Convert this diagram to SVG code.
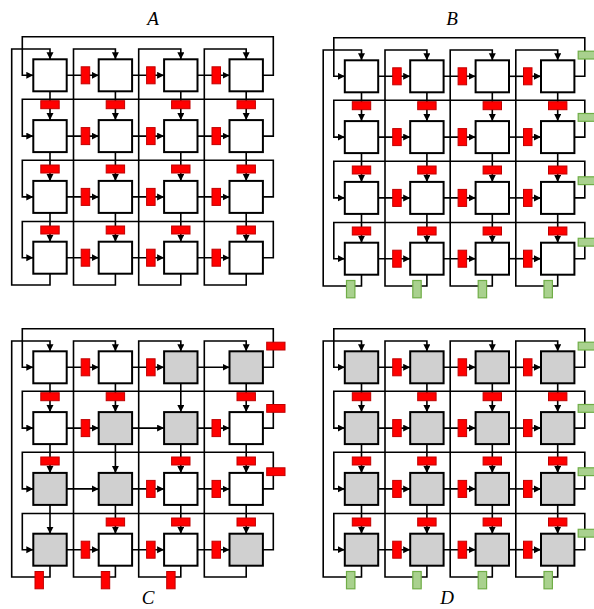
<svg xmlns="http://www.w3.org/2000/svg" width="594" height="609" viewBox="0 0 594 609">
<style>
.bg{fill:#fff}
.conn path{fill:none;stroke:#000;stroke-width:1.6;marker-end:url(#ah)}
.rh,.rv{fill:#f00;stroke:#c00000;stroke-width:1}
.gr{fill:#a9d18e;stroke:#70ad47;stroke-width:1.2}
.n rect{fill:#fff;stroke:#000;stroke-width:2}
.n.s rect{fill:#d0d0d0}
.t{font-family:"Liberation Serif",serif;font-style:italic;font-size:19px;fill:#000}
</style>
<defs>
<marker id="ah" markerWidth="8" markerHeight="8" refX="7" refY="3.5" orient="auto" markerUnits="userSpaceOnUse"><path d="M0,0L7,3.5L0,7z" fill="#000"/></marker>
</defs>
<rect class="bg" x="0" y="0" width="594" height="609"/>
<text class="t" x="153" y="25" text-anchor="middle">A</text>
<text class="t" x="452" y="25" text-anchor="middle">B</text>
<text class="t" x="148" y="604" text-anchor="middle">C</text>
<text class="t" x="447" y="604" text-anchor="middle">D</text>

<!-- Panel A -->
<g id="panelA">
<g id="A-connectors" class="conn">
<path d="M262.9,75.3H273.3V36.7H22.3V75.3H33.3"/>
<path d="M262.9,136.1H273.3V99.3H22.3V136.1H33.3"/>
<path d="M262.9,196.9H273.3V160.2H22.3V196.9H33.3"/>
<path d="M262.9,257.7H273.3V221.5H22.3V257.7H33.3"/>
<path d="M50,273.7V285H11.7V49H50V59.3"/>
<path d="M115.4,273.7V285H73.5V49H115.4V59.3"/>
<path d="M180.8,273.7V285H138.7V49H180.8V59.3"/>
<path d="M246.2,273.7V285H204.3V49H246.2V59.3"/>
<path d="M66.7,75.3H98.7"/><path d="M132.1,75.3H164.1"/><path d="M197.5,75.3H229.5"/>
<path d="M66.7,136.1H98.7"/><path d="M132.1,136.1H164.1"/><path d="M197.5,136.1H229.5"/>
<path d="M66.7,196.9H98.7"/><path d="M132.1,196.9H164.1"/><path d="M197.5,196.9H229.5"/>
<path d="M66.7,257.7H98.7"/><path d="M132.1,257.7H164.1"/><path d="M197.5,257.7H229.5"/>
<path d="M50,91.3V120.1"/><path d="M50,152.1V180.9"/><path d="M50,212.9V241.7"/>
<path d="M115.4,91.3V120.1"/><path d="M115.4,152.1V180.9"/><path d="M115.4,212.9V241.7"/>
<path d="M180.8,91.3V120.1"/><path d="M180.8,152.1V180.9"/><path d="M180.8,212.9V241.7"/>
<path d="M246.2,91.3V120.1"/><path d="M246.2,152.1V180.9"/><path d="M246.2,212.9V241.7"/>
</g>
<g id="A-registers">
<rect class="rh" x="81.2" y="66.8" width="8.5" height="17"/><rect class="rh" x="146.6" y="66.8" width="8.5" height="17"/><rect class="rh" x="212" y="66.8" width="8.5" height="17"/>
<rect class="rh" x="81.2" y="127.6" width="8.5" height="17"/><rect class="rh" x="146.6" y="127.6" width="8.5" height="17"/><rect class="rh" x="212" y="127.6" width="8.5" height="17"/>
<rect class="rh" x="81.2" y="188.4" width="8.5" height="17"/><rect class="rh" x="146.6" y="188.4" width="8.5" height="17"/><rect class="rh" x="212" y="188.4" width="8.5" height="17"/>
<rect class="rh" x="81.2" y="249.2" width="8.5" height="17"/><rect class="rh" x="146.6" y="249.2" width="8.5" height="17"/><rect class="rh" x="212" y="249.2" width="8.5" height="17"/>
<rect class="rv" x="40.8" y="100.7" width="18.4" height="8"/><rect class="rv" x="40.8" y="165" width="18.4" height="8"/><rect class="rv" x="40.8" y="226" width="18.4" height="8"/>
<rect class="rv" x="106.2" y="100.7" width="18.4" height="8"/><rect class="rv" x="106.2" y="165" width="18.4" height="8"/><rect class="rv" x="106.2" y="226" width="18.4" height="8"/>
<rect class="rv" x="171.6" y="100.7" width="18.4" height="8"/><rect class="rv" x="171.6" y="165" width="18.4" height="8"/><rect class="rv" x="171.6" y="226" width="18.4" height="8"/>
<rect class="rv" x="237" y="100.7" width="18.4" height="8"/><rect class="rv" x="237" y="165" width="18.4" height="8"/><rect class="rv" x="237" y="226" width="18.4" height="8"/>
</g>
<g id="A-n11" class="n"><rect x="33.3" y="59.3" width="33.4" height="32"/></g>
<g id="A-n12" class="n"><rect x="98.7" y="59.3" width="33.4" height="32"/></g>
<g id="A-n13" class="n"><rect x="164.1" y="59.3" width="33.4" height="32"/></g>
<g id="A-n14" class="n"><rect x="229.5" y="59.3" width="33.4" height="32"/></g>
<g id="A-n21" class="n"><rect x="33.3" y="120.1" width="33.4" height="32"/></g>
<g id="A-n22" class="n"><rect x="98.7" y="120.1" width="33.4" height="32"/></g>
<g id="A-n23" class="n"><rect x="164.1" y="120.1" width="33.4" height="32"/></g>
<g id="A-n24" class="n"><rect x="229.5" y="120.1" width="33.4" height="32"/></g>
<g id="A-n31" class="n"><rect x="33.3" y="180.9" width="33.4" height="32"/></g>
<g id="A-n32" class="n"><rect x="98.7" y="180.9" width="33.4" height="32"/></g>
<g id="A-n33" class="n"><rect x="164.1" y="180.9" width="33.4" height="32"/></g>
<g id="A-n34" class="n"><rect x="229.5" y="180.9" width="33.4" height="32"/></g>
<g id="A-n41" class="n"><rect x="33.3" y="241.7" width="33.4" height="32"/></g>
<g id="A-n42" class="n"><rect x="98.7" y="241.7" width="33.4" height="32"/></g>
<g id="A-n43" class="n"><rect x="164.1" y="241.7" width="33.4" height="32"/></g>
<g id="A-n44" class="n"><rect x="229.5" y="241.7" width="33.4" height="32"/></g>
</g>

<!-- Panel B -->
<g id="panelB" transform="translate(311.5,1)">
<g id="B-connectors" class="conn">
<path d="M262.9,75.3H273.3V36.7H22.3V75.3H33.3"/>
<path d="M262.9,136.1H273.3V99.3H22.3V136.1H33.3"/>
<path d="M262.9,196.9H273.3V160.2H22.3V196.9H33.3"/>
<path d="M262.9,257.7H273.3V221.5H22.3V257.7H33.3"/>
<path d="M50,273.7V285H11.7V49H50V59.3"/>
<path d="M115.4,273.7V285H73.5V49H115.4V59.3"/>
<path d="M180.8,273.7V285H138.7V49H180.8V59.3"/>
<path d="M246.2,273.7V285H204.3V49H246.2V59.3"/>
<path d="M66.7,75.3H98.7"/><path d="M132.1,75.3H164.1"/><path d="M197.5,75.3H229.5"/>
<path d="M66.7,136.1H98.7"/><path d="M132.1,136.1H164.1"/><path d="M197.5,136.1H229.5"/>
<path d="M66.7,196.9H98.7"/><path d="M132.1,196.9H164.1"/><path d="M197.5,196.9H229.5"/>
<path d="M66.7,257.7H98.7"/><path d="M132.1,257.7H164.1"/><path d="M197.5,257.7H229.5"/>
<path d="M50,91.3V120.1"/><path d="M50,152.1V180.9"/><path d="M50,212.9V241.7"/>
<path d="M115.4,91.3V120.1"/><path d="M115.4,152.1V180.9"/><path d="M115.4,212.9V241.7"/>
<path d="M180.8,91.3V120.1"/><path d="M180.8,152.1V180.9"/><path d="M180.8,212.9V241.7"/>
<path d="M246.2,91.3V120.1"/><path d="M246.2,152.1V180.9"/><path d="M246.2,212.9V241.7"/>
</g>
<g id="B-registers">
<rect class="rh" x="81.2" y="66.8" width="8.5" height="17"/><rect class="rh" x="146.6" y="66.8" width="8.5" height="17"/><rect class="rh" x="212" y="66.8" width="8.5" height="17"/>
<rect class="rh" x="81.2" y="127.6" width="8.5" height="17"/><rect class="rh" x="146.6" y="127.6" width="8.5" height="17"/><rect class="rh" x="212" y="127.6" width="8.5" height="17"/>
<rect class="rh" x="81.2" y="188.4" width="8.5" height="17"/><rect class="rh" x="146.6" y="188.4" width="8.5" height="17"/><rect class="rh" x="212" y="188.4" width="8.5" height="17"/>
<rect class="rh" x="81.2" y="249.2" width="8.5" height="17"/><rect class="rh" x="146.6" y="249.2" width="8.5" height="17"/><rect class="rh" x="212" y="249.2" width="8.5" height="17"/>
<rect class="rv" x="40.8" y="100.7" width="18.4" height="8"/><rect class="rv" x="40.8" y="165" width="18.4" height="8"/><rect class="rv" x="40.8" y="226" width="18.4" height="8"/>
<rect class="rv" x="106.2" y="100.7" width="18.4" height="8"/><rect class="rv" x="106.2" y="165" width="18.4" height="8"/><rect class="rv" x="106.2" y="226" width="18.4" height="8"/>
<rect class="rv" x="171.6" y="100.7" width="18.4" height="8"/><rect class="rv" x="171.6" y="165" width="18.4" height="8"/><rect class="rv" x="171.6" y="226" width="18.4" height="8"/>
<rect class="rv" x="237" y="100.7" width="18.4" height="8"/><rect class="rv" x="237" y="165" width="18.4" height="8"/><rect class="rv" x="237" y="226" width="18.4" height="8"/>
<rect class="gr" x="266.7" y="50.2" width="18.3" height="7.8"/><rect class="gr" x="266.7" y="112.5" width="18.3" height="7.8"/><rect class="gr" x="266.7" y="175.8" width="18.3" height="7.8"/><rect class="gr" x="266.7" y="237.3" width="18.3" height="7.8"/>
<rect class="gr" x="35" y="279.5" width="8.4" height="17.3"/><rect class="gr" x="101.3" y="279.5" width="8.4" height="17.3"/><rect class="gr" x="166.7" y="279.5" width="8.4" height="17.3"/><rect class="gr" x="232.5" y="279.5" width="8.4" height="17.3"/>
</g>
<g id="B-n11" class="n"><rect x="33.3" y="59.3" width="33.4" height="32"/></g>
<g id="B-n12" class="n"><rect x="98.7" y="59.3" width="33.4" height="32"/></g>
<g id="B-n13" class="n"><rect x="164.1" y="59.3" width="33.4" height="32"/></g>
<g id="B-n14" class="n"><rect x="229.5" y="59.3" width="33.4" height="32"/></g>
<g id="B-n21" class="n"><rect x="33.3" y="120.1" width="33.4" height="32"/></g>
<g id="B-n22" class="n"><rect x="98.7" y="120.1" width="33.4" height="32"/></g>
<g id="B-n23" class="n"><rect x="164.1" y="120.1" width="33.4" height="32"/></g>
<g id="B-n24" class="n"><rect x="229.5" y="120.1" width="33.4" height="32"/></g>
<g id="B-n31" class="n"><rect x="33.3" y="180.9" width="33.4" height="32"/></g>
<g id="B-n32" class="n"><rect x="98.7" y="180.9" width="33.4" height="32"/></g>
<g id="B-n33" class="n"><rect x="164.1" y="180.9" width="33.4" height="32"/></g>
<g id="B-n34" class="n"><rect x="229.5" y="180.9" width="33.4" height="32"/></g>
<g id="B-n41" class="n"><rect x="33.3" y="241.7" width="33.4" height="32"/></g>
<g id="B-n42" class="n"><rect x="98.7" y="241.7" width="33.4" height="32"/></g>
<g id="B-n43" class="n"><rect x="164.1" y="241.7" width="33.4" height="32"/></g>
<g id="B-n44" class="n"><rect x="229.5" y="241.7" width="33.4" height="32"/></g>
</g>

<!-- Panel C -->
<g id="panelC" transform="translate(0,292)">
<g id="C-connectors" class="conn">
<path d="M262.9,75.3H273.3V36.7H22.3V75.3H33.3"/>
<path d="M262.9,136.1H273.3V99.3H22.3V136.1H33.3"/>
<path d="M262.9,196.9H273.3V160.2H22.3V196.9H33.3"/>
<path d="M262.9,257.7H273.3V221.5H22.3V257.7H33.3"/>
<path d="M50,273.7V285H11.7V49H50V59.3"/>
<path d="M115.4,273.7V285H73.5V49H115.4V59.3"/>
<path d="M180.8,273.7V285H138.7V49H180.8V59.3"/>
<path d="M246.2,273.7V285H204.3V49H246.2V59.3"/>
<path d="M66.7,75.3H98.7"/><path d="M132.1,75.3H164.1"/><path d="M197.5,75.3H229.5"/>
<path d="M66.7,136.1H98.7"/><path d="M132.1,136.1H164.1"/><path d="M197.5,136.1H229.5"/>
<path d="M66.7,196.9H98.7"/><path d="M132.1,196.9H164.1"/><path d="M197.5,196.9H229.5"/>
<path d="M66.7,257.7H98.7"/><path d="M132.1,257.7H164.1"/><path d="M197.5,257.7H229.5"/>
<path d="M50,91.3V120.1"/><path d="M50,152.1V180.9"/><path d="M50,212.9V241.7"/>
<path d="M115.4,91.3V120.1"/><path d="M115.4,152.1V180.9"/><path d="M115.4,212.9V241.7"/>
<path d="M180.8,91.3V120.1"/><path d="M180.8,152.1V180.9"/><path d="M180.8,212.9V241.7"/>
<path d="M246.2,91.3V120.1"/><path d="M246.2,152.1V180.9"/><path d="M246.2,212.9V241.7"/>
</g>
<g id="C-registers">
<rect class="rh" x="81.2" y="66.8" width="8.5" height="17"/><rect class="rh" x="146.6" y="66.8" width="8.5" height="17"/>
<rect class="rh" x="81.2" y="127.6" width="8.5" height="17"/><rect class="rh" x="212" y="127.6" width="8.5" height="17"/>
<rect class="rh" x="146.6" y="188.4" width="8.5" height="17"/><rect class="rh" x="212" y="188.4" width="8.5" height="17"/>
<rect class="rh" x="81.2" y="249.2" width="8.5" height="17"/><rect class="rh" x="146.6" y="249.2" width="8.5" height="17"/><rect class="rh" x="212" y="249.2" width="8.5" height="17"/>
<rect class="rv" x="40.8" y="100.7" width="18.4" height="8"/><rect class="rv" x="40.8" y="165" width="18.4" height="8"/>
<rect class="rv" x="106.2" y="100.7" width="18.4" height="8"/><rect class="rv" x="106.2" y="226" width="18.4" height="8"/>
<rect class="rv" x="171.6" y="165" width="18.4" height="8"/><rect class="rv" x="171.6" y="226" width="18.4" height="8"/>
<rect class="rv" x="237" y="100.7" width="18.4" height="8"/><rect class="rv" x="237" y="165" width="18.4" height="8"/><rect class="rv" x="237" y="226" width="18.4" height="8"/>
<rect class="rv" x="266.7" y="50.2" width="18.3" height="7.8"/><rect class="rv" x="266.7" y="112.5" width="18.3" height="7.8"/><rect class="rv" x="266.7" y="175.8" width="18.3" height="7.8"/>
<rect class="rh" x="35" y="279.5" width="8.4" height="17.3"/><rect class="rh" x="101.3" y="279.5" width="8.4" height="17.3"/><rect class="rh" x="166.7" y="279.5" width="8.4" height="17.3"/>
</g>
<g id="C-n11" class="n"><rect x="33.3" y="59.3" width="33.4" height="32"/></g>
<g id="C-n12" class="n"><rect x="98.7" y="59.3" width="33.4" height="32"/></g>
<g id="C-n13" class="n s"><rect x="164.1" y="59.3" width="33.4" height="32"/></g>
<g id="C-n14" class="n s"><rect x="229.5" y="59.3" width="33.4" height="32"/></g>
<g id="C-n21" class="n"><rect x="33.3" y="120.1" width="33.4" height="32"/></g>
<g id="C-n22" class="n s"><rect x="98.7" y="120.1" width="33.4" height="32"/></g>
<g id="C-n23" class="n s"><rect x="164.1" y="120.1" width="33.4" height="32"/></g>
<g id="C-n24" class="n"><rect x="229.5" y="120.1" width="33.4" height="32"/></g>
<g id="C-n31" class="n s"><rect x="33.3" y="180.9" width="33.4" height="32"/></g>
<g id="C-n32" class="n s"><rect x="98.7" y="180.9" width="33.4" height="32"/></g>
<g id="C-n33" class="n"><rect x="164.1" y="180.9" width="33.4" height="32"/></g>
<g id="C-n34" class="n"><rect x="229.5" y="180.9" width="33.4" height="32"/></g>
<g id="C-n41" class="n s"><rect x="33.3" y="241.7" width="33.4" height="32"/></g>
<g id="C-n42" class="n"><rect x="98.7" y="241.7" width="33.4" height="32"/></g>
<g id="C-n43" class="n"><rect x="164.1" y="241.7" width="33.4" height="32"/></g>
<g id="C-n44" class="n s"><rect x="229.5" y="241.7" width="33.4" height="32"/></g>
</g>

<!-- Panel D -->
<g id="panelD" transform="translate(311.5,292)">
<g id="D-connectors" class="conn">
<path d="M262.9,75.3H273.3V36.7H22.3V75.3H33.3"/>
<path d="M262.9,136.1H273.3V99.3H22.3V136.1H33.3"/>
<path d="M262.9,196.9H273.3V160.2H22.3V196.9H33.3"/>
<path d="M262.9,257.7H273.3V221.5H22.3V257.7H33.3"/>
<path d="M50,273.7V285H11.7V49H50V59.3"/>
<path d="M115.4,273.7V285H73.5V49H115.4V59.3"/>
<path d="M180.8,273.7V285H138.7V49H180.8V59.3"/>
<path d="M246.2,273.7V285H204.3V49H246.2V59.3"/>
<path d="M66.7,75.3H98.7"/><path d="M132.1,75.3H164.1"/><path d="M197.5,75.3H229.5"/>
<path d="M66.7,136.1H98.7"/><path d="M132.1,136.1H164.1"/><path d="M197.5,136.1H229.5"/>
<path d="M66.7,196.9H98.7"/><path d="M132.1,196.9H164.1"/><path d="M197.5,196.9H229.5"/>
<path d="M66.7,257.7H98.7"/><path d="M132.1,257.7H164.1"/><path d="M197.5,257.7H229.5"/>
<path d="M50,91.3V120.1"/><path d="M50,152.1V180.9"/><path d="M50,212.9V241.7"/>
<path d="M115.4,91.3V120.1"/><path d="M115.4,152.1V180.9"/><path d="M115.4,212.9V241.7"/>
<path d="M180.8,91.3V120.1"/><path d="M180.8,152.1V180.9"/><path d="M180.8,212.9V241.7"/>
<path d="M246.2,91.3V120.1"/><path d="M246.2,152.1V180.9"/><path d="M246.2,212.9V241.7"/>
</g>
<g id="D-registers">
<rect class="rh" x="81.2" y="66.8" width="8.5" height="17"/><rect class="rh" x="146.6" y="66.8" width="8.5" height="17"/><rect class="rh" x="212" y="66.8" width="8.5" height="17"/>
<rect class="rh" x="81.2" y="127.6" width="8.5" height="17"/><rect class="rh" x="146.6" y="127.6" width="8.5" height="17"/><rect class="rh" x="212" y="127.6" width="8.5" height="17"/>
<rect class="rh" x="81.2" y="188.4" width="8.5" height="17"/><rect class="rh" x="146.6" y="188.4" width="8.5" height="17"/><rect class="rh" x="212" y="188.4" width="8.5" height="17"/>
<rect class="rh" x="81.2" y="249.2" width="8.5" height="17"/><rect class="rh" x="146.6" y="249.2" width="8.5" height="17"/><rect class="rh" x="212" y="249.2" width="8.5" height="17"/>
<rect class="rv" x="40.8" y="100.7" width="18.4" height="8"/><rect class="rv" x="40.8" y="165" width="18.4" height="8"/><rect class="rv" x="40.8" y="226" width="18.4" height="8"/>
<rect class="rv" x="106.2" y="100.7" width="18.4" height="8"/><rect class="rv" x="106.2" y="165" width="18.4" height="8"/><rect class="rv" x="106.2" y="226" width="18.4" height="8"/>
<rect class="rv" x="171.6" y="100.7" width="18.4" height="8"/><rect class="rv" x="171.6" y="165" width="18.4" height="8"/><rect class="rv" x="171.6" y="226" width="18.4" height="8"/>
<rect class="rv" x="237" y="100.7" width="18.4" height="8"/><rect class="rv" x="237" y="165" width="18.4" height="8"/><rect class="rv" x="237" y="226" width="18.4" height="8"/>
<rect class="gr" x="266.7" y="50.2" width="18.3" height="7.8"/><rect class="gr" x="266.7" y="112.5" width="18.3" height="7.8"/><rect class="gr" x="266.7" y="175.8" width="18.3" height="7.8"/><rect class="gr" x="266.7" y="237.3" width="18.3" height="7.8"/>
<rect class="gr" x="35" y="279.5" width="8.4" height="17.3"/><rect class="gr" x="101.3" y="279.5" width="8.4" height="17.3"/><rect class="gr" x="166.7" y="279.5" width="8.4" height="17.3"/><rect class="gr" x="232.5" y="279.5" width="8.4" height="17.3"/>
</g>
<g id="D-n11" class="n s"><rect x="33.3" y="59.3" width="33.4" height="32"/></g>
<g id="D-n12" class="n s"><rect x="98.7" y="59.3" width="33.4" height="32"/></g>
<g id="D-n13" class="n s"><rect x="164.1" y="59.3" width="33.4" height="32"/></g>
<g id="D-n14" class="n s"><rect x="229.5" y="59.3" width="33.4" height="32"/></g>
<g id="D-n21" class="n s"><rect x="33.3" y="120.1" width="33.4" height="32"/></g>
<g id="D-n22" class="n s"><rect x="98.7" y="120.1" width="33.4" height="32"/></g>
<g id="D-n23" class="n s"><rect x="164.1" y="120.1" width="33.4" height="32"/></g>
<g id="D-n24" class="n s"><rect x="229.5" y="120.1" width="33.4" height="32"/></g>
<g id="D-n31" class="n s"><rect x="33.3" y="180.9" width="33.4" height="32"/></g>
<g id="D-n32" class="n s"><rect x="98.7" y="180.9" width="33.4" height="32"/></g>
<g id="D-n33" class="n s"><rect x="164.1" y="180.9" width="33.4" height="32"/></g>
<g id="D-n34" class="n s"><rect x="229.5" y="180.9" width="33.4" height="32"/></g>
<g id="D-n41" class="n s"><rect x="33.3" y="241.7" width="33.4" height="32"/></g>
<g id="D-n42" class="n s"><rect x="98.7" y="241.7" width="33.4" height="32"/></g>
<g id="D-n43" class="n s"><rect x="164.1" y="241.7" width="33.4" height="32"/></g>
<g id="D-n44" class="n s"><rect x="229.5" y="241.7" width="33.4" height="32"/></g>
</g>
</svg>
